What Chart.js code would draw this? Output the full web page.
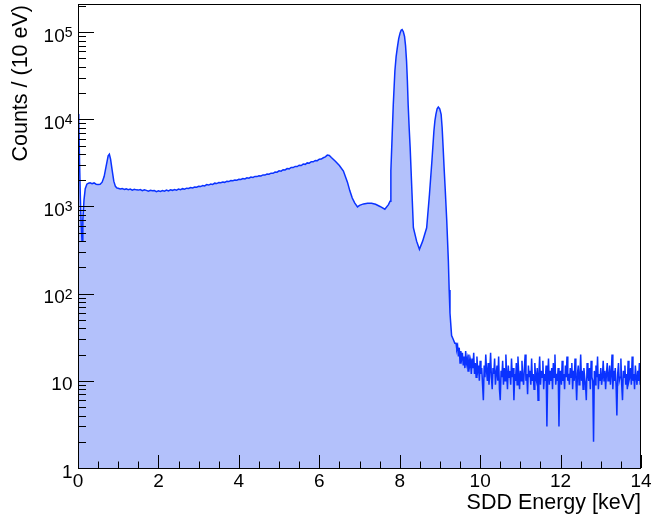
<!DOCTYPE html>
<html>
<head>
<meta charset="utf-8">
<title>SDD energy spectrum</title>
<script src="https://cdn.jsdelivr.net/npm/chart.js@4/dist/chart.umd.min.js"></script>
<style>
  html, body { margin: 0; padding: 0; background: #fff; }
  #spectre { display: block; }
</style>
</head>
<body>
<canvas id="spectre" width="654" height="522"></canvas>
<script>
// Basse énergie : énergie (keV) et coups par canal de 10 eV
var energiesBasses = [
    0.00, 0.02, 0.04, 0.06, 0.08, 0.10, 0.12, 0.15, 0.18, 0.22, 0.26, 0.30, 0.35, 0.40, 0.45,
    0.50, 0.55, 0.60, 0.65, 0.70, 0.75, 0.78, 0.81, 0.85, 0.89, 0.93, 0.97
];
var coupsBas = [
    11500, 9000, 3000, 1200, 600, 400, 700, 1200, 1600, 1800, 1850, 1870, 1820, 1860, 1800,
    1790, 1800, 1900, 2200, 2900, 3800, 3970, 3500, 2600, 1950, 1700, 1630
];

// Continuum de 1.00 à 6.20 keV, un point tous les 50 eV
var debutContinu = 1.00;
var pasContinu = 0.05;
var coupsContinu = [
    1620, 1590, 1610, 1570, 1590, 1560, 1580, 1540, 1570, 1550,
    1540, 1560, 1520, 1550, 1530, 1500, 1530, 1510, 1520, 1480,
    1510, 1490, 1520, 1500, 1540, 1510, 1550, 1530, 1560, 1540,
    1580, 1560, 1600, 1580, 1620, 1610, 1650, 1630, 1670, 1660,
    1700, 1690, 1740, 1720, 1780, 1760, 1810, 1790, 1850, 1830,
    1880, 1870, 1910, 1890, 1950, 1930, 1980, 1970, 2010, 2000,
    2050, 2040, 2090, 2070, 2130, 2110, 2170, 2150, 2210, 2200,
    2250, 2240, 2300, 2290, 2350, 2340, 2410, 2400, 2480, 2470,
    2560, 2540, 2640, 2620, 2720, 2700, 2800, 2790, 2880, 2870,
    2970, 2950, 3060, 3040, 3160, 3140, 3260, 3250, 3370, 3350,
    3480, 3500, 3620, 3700, 3880
];

// Front Compton, raies Kα et Kβ
var energiesPics = [
    6.25, 6.30, 6.40, 6.50, 6.60, 6.70, 6.76, 6.82, 6.88, 6.95, 7.00, 7.10, 7.20, 7.30, 7.40,
    7.51, 7.63, 7.72, 7.76, 7.78, 7.81, 7.84, 7.88, 7.91, 7.94, 7.975, 8.01, 8.035, 8.06, 8.09,
    8.12, 8.145, 8.17, 8.19, 8.21, 8.235, 8.26, 8.30, 8.34, 8.42, 8.49, 8.57, 8.67, 8.74, 8.80,
    8.85, 8.875, 8.90, 8.93, 8.96, 8.995, 9.03, 9.055, 9.08, 9.105, 9.13, 9.17, 9.21, 9.23, 9.25,
    9.29, 9.33, 9.37
];
var coupsPics = [
    3850, 3650, 3300, 2950, 2550, 1900, 1510, 1250, 1100, 990, 1030, 1070, 1090, 1090, 1060,
    1000, 930, 1050, 1150, 2550, 6100, 14800, 35800, 52000, 66000, 84000, 98000, 105000, 107000, 101000,
    89000, 70000, 46500, 28000, 14800, 8000, 4700, 1630, 570, 400, 323, 400, 570, 1380, 3300,
    7300, 9600, 11400, 13200, 13800, 13200, 11400, 8000, 4700, 2700, 1630, 680, 237, 110, 60,
    33, 30, 27
];

// Queue de bruit au-delà de 9.4 keV, un point tous les 20 eV
var debutQueue = 9.40;
var pasQueue = 0.02;
var coupsQueue = [
    27, 23, 25, 19, 24, 16, 22, 18, 21, 15,
    19, 14, 22, 16, 18, 13, 20, 15, 17, 12,
    18, 14, 21, 12, 16, 11, 19, 13, 15, 10,
    17, 12, 14, 9, 6, 15, 11, 20, 13, 10,
    16, 9, 13, 21, 11, 8, 14, 12, 18, 9,
    12, 15, 10, 19, 8, 6, 13, 11, 17, 9,
    14, 10, 20, 12, 8, 15, 11, 13, 9, 18,
    11, 14, 6, 12, 10, 16, 9, 19, 12, 8,
    13, 10, 17, 11, 9, 14, 20, 10, 12, 7,
    15, 11, 13, 9, 18, 10, 12, 8, 16, 11,
    10, 14, 6, 12, 19, 9, 13, 11, 17, 8,
    12, 10, 15, 3, 11, 18, 9, 13, 10, 14,
    8, 16, 11, 20, 9, 12, 10, 14, 3, 11,
    13, 9, 17, 10, 12, 8, 15, 11, 19, 10,
    12, 9, 14, 11, 16, 8, 13, 10, 18, 11,
    6, 12, 15, 9, 11, 20, 10, 13, 8, 14,
    11, 9, 6, 16, 12, 10, 14, 8, 17, 11,
    10, 2, 13, 9, 15, 11, 19, 8, 12, 10,
    14, 9, 11, 17, 10, 13, 8, 12, 16, 10,
    11, 15, 9, 12, 20, 8, 13, 10, 14, 9,
    4, 12, 16, 10, 11, 18, 9, 6, 13, 11,
    15, 9, 12, 8, 17, 10, 11, 14, 9, 19,
    10, 12, 8, 15, 11, 9, 13, 10, 16, 9,
    11
];

// Graduations des axes
var ticksX = [0, 2, 4, 6, 8, 10, 12, 14];
var ticksXMineurs = [0.5, 1, 1.5, 2.5, 3, 3.5, 4.5, 5, 5.5, 6.5, 7, 7.5, 8.5, 9, 9.5, 10.5, 11, 11.5, 12.5, 13, 13.5];
var decadesY = [1, 10, 100, 1000, 10000, 100000];
var exposantsY = ['', '', '2', '3', '4', '5'];
var titreX = 'SDD Energy [keV]';
var titreY = 'Counts / (10 eV)';

var police = "'Liberation Sans', Arial, Helvetica, sans-serif";

// Construction des points {x, y}
function arrondi(e) {
    return Math.round(e * 1000) / 1000;
}
var points = [];
energiesBasses.forEach(function(e, i) {
    points.push({ x: e, y: coupsBas[i] });
});
coupsContinu.forEach(function(c, i) {
    points.push({ x: arrondi(debutContinu + i * pasContinu), y: c });
});
energiesPics.forEach(function(e, i) {
    points.push({ x: e, y: coupsPics[i] });
});
coupsQueue.forEach(function(c, i) {
    points.push({ x: arrondi(debutQueue + i * pasQueue), y: c });
});

// Cadre, graduations vers l'intérieur et textes des axes, façon ROOT
var cadreAxes = {
    id: 'cadreAxes',
    afterDatasetsDraw: function(chart) {
        var ctx = chart.ctx;
        var zone = chart.chartArea;
        var sx = chart.scales.x;
        var sy = chart.scales.y;
        ctx.save();

        ctx.strokeStyle = '#000';
        ctx.lineWidth = 1;
        ctx.strokeRect(zone.left + 0.5, zone.top + 0.5, zone.right - zone.left - 1, zone.bottom - zone.top);

        // graduations de l'axe x
        ctx.beginPath();
        ticksX.forEach(function(v) {
            var px = Math.round(sx.getPixelForValue(v)) + 0.5;
            ctx.moveTo(px, zone.bottom);
            ctx.lineTo(px, zone.bottom - 13);
        });
        ticksXMineurs.forEach(function(v) {
            var px = Math.round(sx.getPixelForValue(v)) + 0.5;
            ctx.moveTo(px, zone.bottom);
            ctx.lineTo(px, zone.bottom - 6.5);
        });

        // graduations de l'axe y (logarithmique)
        decadesY.forEach(function(d) {
            for (var k = 1; k <= 9; k++) {
                var v = d * k;
                if (v > sy.max) break;
                var py = Math.round(sy.getPixelForValue(v)) + 0.5;
                ctx.moveTo(zone.left, py);
                ctx.lineTo(zone.left + (k === 1 ? 16 : 8), py);
            }
        });
        ctx.stroke();

        // étiquettes de l'axe x
        ctx.fillStyle = '#000';
        ctx.font = '19px ' + police;
        ctx.textAlign = 'center';
        ctx.textBaseline = 'alphabetic';
        ticksX.forEach(function(v) {
            ctx.fillText(String(v), sx.getPixelForValue(v), 487);
        });

        // étiquettes de l'axe y, avec exposant
        var droite = 72.5;
        decadesY.forEach(function(d, i) {
            var py = sy.getPixelForValue(d);
            var base = d === 1 ? '1' : '10';
            var exp = exposantsY[i];
            ctx.textAlign = 'right';
            if (exp) {
                ctx.font = '14px ' + police;
                var largeur = ctx.measureText(exp).width;
                ctx.fillText(exp, droite, py + 5);
                ctx.font = '19px ' + police;
                ctx.fillText(base, droite - largeur, py + 9.5);
            } else {
                ctx.font = '19px ' + police;
                ctx.fillText(base, droite, py + 9.5);
            }
        });

        // titres des axes
        ctx.font = '21.5px ' + police;
        ctx.textAlign = 'right';
        ctx.fillText(titreX, zone.right, 509);

        ctx.translate(27, zone.top + 1);
        ctx.rotate(-Math.PI / 2);
        ctx.fillText(titreY, 0, 0);

        ctx.restore();
    }
};

var ctx = document.getElementById('spectre').getContext('2d');
var graphique = new Chart(ctx, {
    type: 'line',
    data: {
        datasets: [{
            label: 'SDD',
            data: points,
            borderColor: 'rgb(10, 50, 255)',
            backgroundColor: 'rgb(179, 193, 251)',
            borderWidth: 1.5,
            pointRadius: 0,
            tension: 0,
            fill: 'start'
        }]
    },
    options: {
        responsive: false,
        animation: false,
        devicePixelRatio: 1,
        layout: {
            padding: { left: 78, right: 13, top: 4, bottom: 54 }
        },
        plugins: {
            legend: { display: false },
            tooltip: { enabled: false }
        },
        scales: {
            x: {
                type: 'linear',
                min: 0,
                max: 14,
                display: false
            },
            y: {
                type: 'logarithmic',
                min: 1,
                max: 210000,
                display: false
            }
        }
    },
    plugins: [cadreAxes]
});
</script>
</body>
</html>
